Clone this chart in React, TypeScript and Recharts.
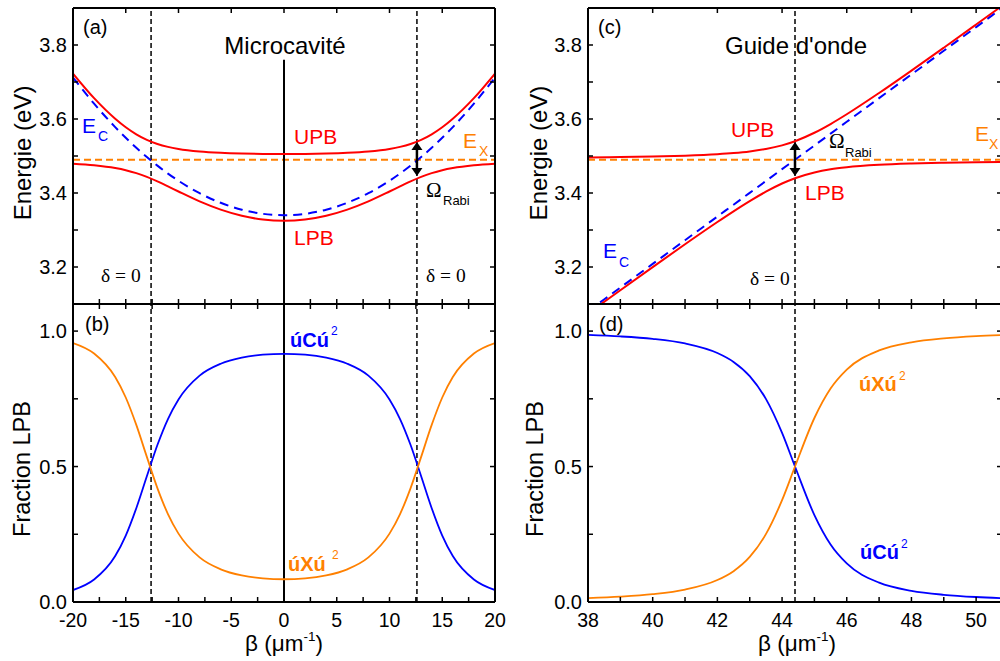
import React from 'react';
import { LineChart, Line, XAxis, YAxis, ReferenceLine } from 'recharts';

// ---------- Data ----------
const EX = 3.49; // exciton energy (eV)
const DELTA0_MC = 12.6; // beta where detuning = 0 (microcavity)
const DELTA0_WG = 44.4; // beta where detuning = 0 (waveguide)
const RABI_MC = [3.538, 3.446];
const RABI_WG = [3.538, 3.446];
const ZERO_LINE_TOP = 3.76;

const betaMC = [-20, -18, -16, -15, -14, -13, -12, -11, -10, -8, -6, -4, -2, 0, 2, 4, 6, 8, 10, 11, 12, 13, 14, 15, 16, 18, 20];
const upbMC = [3.7227, 3.6563, 3.6007, 3.5777, 3.5587, 3.5437, 3.5326, 3.5247, 3.5191, 3.5122, 3.5085, 3.5065, 3.5055, 3.5051, 3.5055, 3.5065, 3.5085, 3.5122, 3.5191, 3.5247, 3.5326, 3.5437, 3.5587, 3.5777, 3.6007, 3.6563, 3.7227];
const lpbMC = [3.4793, 3.475, 3.4674, 3.4615, 3.4536, 3.4435, 3.4313, 3.4179, 3.404, 3.3773, 3.355, 3.3384, 3.3282, 3.3249, 3.3282, 3.3384, 3.355, 3.3773, 3.404, 3.4179, 3.4313, 3.4435, 3.4536, 3.4615, 3.4674, 3.475, 3.4793];
const ecMC = [3.712, 3.6413, 3.5781, 3.5493, 3.5223, 3.4972, 3.4739, 3.4525, 3.433, 3.3995, 3.3735, 3.3549, 3.3437, 3.34, 3.3437, 3.3549, 3.3735, 3.3995, 3.433, 3.4525, 3.4739, 3.4972, 3.5223, 3.5493, 3.5781, 3.6413, 3.712];
const photonMC = [0.0441, 0.0829, 0.1695, 0.2451, 0.3463, 0.4642, 0.5795, 0.6754, 0.7476, 0.8355, 0.8794, 0.9019, 0.9128, 0.916, 0.9128, 0.9019, 0.8794, 0.8355, 0.7476, 0.6754, 0.5795, 0.4642, 0.3463, 0.2451, 0.1695, 0.0829, 0.0441];
const excitonMC = [0.9559, 0.9171, 0.8305, 0.7549, 0.6537, 0.5358, 0.4205, 0.3246, 0.2524, 0.1645, 0.1206, 0.0981, 0.0872, 0.084, 0.0872, 0.0981, 0.1206, 0.1645, 0.2524, 0.3246, 0.4205, 0.5358, 0.6537, 0.7549, 0.8305, 0.9171, 0.9559];

const betaWG = [38, 39, 40, 41, 42, 42.5, 43, 43.5, 44, 44.4, 45, 45.5, 46, 47, 48, 49, 50, 50.8];
const upbWG = [3.496, 3.4971, 3.4986, 3.5009, 3.5048, 3.5079, 3.5123, 3.5189, 3.5288, 3.54, 3.5628, 3.5864, 3.6128, 3.6703, 3.7308, 3.7927, 3.8553, 3.9056];
const lpbWG = [3.0744, 3.1373, 3.1998, 3.2615, 3.3216, 3.3505, 3.3781, 3.4035, 3.4256, 3.44, 3.4556, 3.4641, 3.4696, 3.4761, 3.4796, 3.4817, 3.4832, 3.484];
const ecWG = [3.0804, 3.1444, 3.2084, 3.2724, 3.3364, 3.3684, 3.4004, 3.4324, 3.4644, 3.49, 3.5284, 3.5604, 3.5924, 3.6564, 3.7204, 3.7844, 3.8484, 3.8996];
const photonWG = [0.9857, 0.9803, 0.9712, 0.9543, 0.919, 0.8862, 0.8337, 0.7496, 0.624, 0.5, 0.3208, 0.2122, 0.1423, 0.0714, 0.0413, 0.0266, 0.0184, 0.0143];
const excitonWG = [0.0143, 0.0197, 0.0288, 0.0457, 0.081, 0.1138, 0.1663, 0.2504, 0.376, 0.5, 0.6792, 0.7878, 0.8577, 0.9286, 0.9587, 0.9734, 0.9816, 0.9857];

// ---------- Ticks ----------
const xTicksMC = [-20, -17.5, -15, -12.5, -10, -7.5, -5, -2.5, 0, 2.5, 5, 7.5, 10, 12.5, 15, 17.5, 20];
const xTicksMCTop = [-20, -15, -10, -5, 0, 5, 10, 15, 20];
const xMajorMC = [-20, -15, -10, -5, 0, 5, 10, 15, 20];
const xTicksWG = [38, 39, 40, 41, 42, 43, 44, 45, 46, 47, 48, 49, 50];
const xTicksWGTop = [38, 40, 42, 44, 46, 48, 50];
const xMajorWG = [38, 40, 42, 44, 46, 48, 50];
const yTicksE = [3.2, 3.3, 3.4, 3.5, 3.6, 3.7, 3.8];
const yMajorE = [3.2, 3.4, 3.6, 3.8];
const yTicksF = [0, 0.25, 0.5, 0.75, 1.0];
const yMajorF = [0, 0.5, 1.0];

const domMC = [-20, 20];
const domWG = [38, 50.8];
const domE = [3.1, 3.9];
const domF = [0, 1.1];

const rowsMC = betaMC.map((b, i) => ({ b, upb: upbMC[i], lpb: lpbMC[i], ec: ecMC[i], c: photonMC[i], x: excitonMC[i] }));
const rowsWG = betaWG.map((b, i) => ({ b, upb: upbWG[i], lpb: lpbWG[i], ec: ecWG[i], c: photonWG[i], x: excitonWG[i] }));

const RED = '#FF0000';
const BLUE = '#0000FF';
const ORANGE = '#FF8000';
const SANS = '"Liberation Sans", Arial, sans-serif';
const SERIF = '"Liberation Serif", "Times New Roman", serif';

type Side = 'bottom' | 'top' | 'left' | 'right';
const makeTick = (side: Side, majors: number[], label: boolean, digits = 0) => (props: any) => {
  const { x, y, payload } = props;
  const v = payload.value as number;
  const L = 5;
  const isMajor = majors.some((m) => Math.abs(m - v) < 1e-9);
  let ln: any = null;
  let tx: any = null;
  if (side === 'bottom') {
    ln = <line x1={x} y1={y} x2={x} y2={y - L} stroke="#000" strokeWidth={1.5} />;
    if (label && isMajor) tx = <text x={x} y={y + 25} textAnchor="middle" fontSize={19.5} fontFamily={SANS} fill="#000">{v.toFixed(digits)}</text>;
  } else if (side === 'top') {
    ln = <line x1={x} y1={y} x2={x} y2={y + L} stroke="#000" strokeWidth={1.5} />;
  } else if (side === 'left') {
    ln = <line x1={x} y1={y} x2={x + L} y2={y} stroke="#000" strokeWidth={1.5} />;
    if (label && isMajor) tx = <text x={x - 6} y={y} dy="0.36em" textAnchor="end" fontSize={20} fontFamily={SANS} fill="#000">{v.toFixed(digits)}</text>;
  } else {
    ln = <line x1={x} y1={y} x2={x - L} y2={y} stroke="#000" strokeWidth={1.5} />;
  }
  return <g>{ln}{tx}</g>;
};

const ArrowShape = (p: any) => {
  const { x1, y1, y2 } = p;
  const top = Math.min(y1, y2);
  const bot = Math.max(y1, y2);
  const h = 8;
  const w = 5.5;
  return (
    <g>
      <line x1={x1} y1={top + h - 1} x2={x1} y2={bot - h + 1} stroke="#000" strokeWidth={2.5} />
      <polygon points={`${x1},${top} ${x1 - w},${top + h} ${x1 + w},${top + h}`} fill="#000" />
      <polygon points={`${x1},${bot} ${x1 - w},${bot - h} ${x1 + w},${bot - h}`} fill="#000" />
    </g>
  );
};

const axisLine = { stroke: '#000', strokeWidth: 2 };

const commonAxes = (xdom: number[], ydom: number[], xt: number[], xtTop: number[], xMaj: number[], yt: number[], yMaj: number[], xLabels: boolean, ydigits: number) => [
  <XAxis key="xb" xAxisId={0} type="number" dataKey="b" domain={xdom} allowDataOverflow ticks={xt} interval={0} height={1} tickSize={0} tickMargin={0} axisLine={axisLine} tickLine={false} tick={makeTick('bottom', xMaj, xLabels)} />,
  <XAxis key="xt" xAxisId="t" orientation="top" type="number" dataKey="b" domain={xdom} allowDataOverflow ticks={xtTop} interval={0} height={1} tickSize={0} tickMargin={0} axisLine={axisLine} tickLine={false} tick={makeTick('top', xMaj, false)} />,
  <YAxis key="yl" yAxisId={0} type="number" domain={ydom} allowDataOverflow ticks={yt} interval={0} width={1} tickSize={0} tickMargin={0} axisLine={axisLine} tickLine={false} tick={makeTick('left', yMaj, true, ydigits)} />,
  <YAxis key="yr" yAxisId="r" orientation="right" type="number" domain={ydom} allowDataOverflow ticks={yt} interval={0} width={1} tickSize={0} tickMargin={0} axisLine={axisLine} tickLine={false} tick={makeTick('right', yMaj, false)} />,
];

export default function App() {
  const lineProps = { dot: false, isAnimationActive: false, type: 'monotone' as const, strokeWidth: 2 };
  return (
    <div style={{ position: 'absolute', left: 0, top: 0, width: 1000, height: 661, overflow: 'hidden', background: '#fff', fontFamily: SANS }}>
      {/* (a) Microcavity energies */}
      <div style={{ position: 'absolute', left: 0, top: 0 }}>
        <LineChart width={500} height={310} data={rowsMC} margin={{ top: 7, left: 72, right: 4, bottom: 5 }}>
          {commonAxes(domMC, domE, xTicksMC, xTicksMCTop, xMajorMC, yTicksE, yMajorE, false, 1)}
          <ReferenceLine y={EX} stroke={ORANGE} strokeWidth={2} strokeDasharray="7 4" />
          <ReferenceLine x={-DELTA0_MC} stroke="#000" strokeWidth={1.5} strokeDasharray="5 3" />
          <ReferenceLine x={DELTA0_MC} stroke="#000" strokeWidth={1.5} strokeDasharray="5 3" />
          <ReferenceLine segment={[{ x: 0, y: domE[0] }, { x: 0, y: ZERO_LINE_TOP }]} stroke="#000" strokeWidth={2} />
          <Line {...lineProps} dataKey="ec" stroke={BLUE} strokeDasharray="9 6" />
          <Line {...lineProps} dataKey="upb" stroke={RED} />
          <Line {...lineProps} dataKey="lpb" stroke={RED} />
          <ReferenceLine segment={[{ x: DELTA0_MC, y: RABI_MC[0] }, { x: DELTA0_MC, y: RABI_MC[1] }]} shape={ArrowShape} />
        </LineChart>
      </div>
      {/* (b) Microcavity fractions */}
      <div style={{ position: 'absolute', left: 0, top: 300 }}>
        <LineChart width={525} height={361} data={rowsMC} margin={{ top: 3, left: 72, right: 29, bottom: 58 }}>
          {commonAxes(domMC, domF, xTicksMC, xTicksMC, xMajorMC, yTicksF, yMajorF, true, 1)}
          <ReferenceLine x={-DELTA0_MC} stroke="#000" strokeWidth={1.5} strokeDasharray="5 3" />
          <ReferenceLine x={DELTA0_MC} stroke="#000" strokeWidth={1.5} strokeDasharray="5 3" />
          <ReferenceLine x={0} stroke="#000" strokeWidth={2} />
          <Line {...lineProps} dataKey="c" stroke={BLUE} strokeWidth={1.8} />
          <Line {...lineProps} dataKey="x" stroke={ORANGE} strokeWidth={1.8} />
        </LineChart>
      </div>
      {/* (c) Waveguide energies */}
      <div style={{ position: 'absolute', left: 500, top: 0 }}>
        <LineChart width={510} height={310} data={rowsWG} margin={{ top: 7, left: 87, right: 7, bottom: 5 }}>
          {commonAxes(domWG, domE, xTicksWG, xTicksWGTop, xMajorWG, yTicksE, yMajorE, false, 1)}
          <ReferenceLine y={EX} stroke={ORANGE} strokeWidth={2} strokeDasharray="7 4" />
          <ReferenceLine x={DELTA0_WG} stroke="#000" strokeWidth={1.5} strokeDasharray="5 3" />
          <Line {...lineProps} dataKey="ec" stroke={BLUE} strokeDasharray="9 6" />
          <Line {...lineProps} dataKey="upb" stroke={RED} />
          <Line {...lineProps} dataKey="lpb" stroke={RED} />
          <ReferenceLine segment={[{ x: DELTA0_WG, y: RABI_WG[0] }, { x: DELTA0_WG, y: RABI_WG[1] }]} shape={ArrowShape} />
        </LineChart>
      </div>
      {/* (d) Waveguide fractions */}
      <div style={{ position: 'absolute', left: 500, top: 300 }}>
        <LineChart width={510} height={361} data={rowsWG} margin={{ top: 3, left: 87, right: 7, bottom: 58 }}>
          {commonAxes(domWG, domF, xTicksWG, xTicksWG, xMajorWG, yTicksF, yMajorF, true, 1)}
          <ReferenceLine x={DELTA0_WG} stroke="#000" strokeWidth={1.5} strokeDasharray="5 3" />
          <Line {...lineProps} dataKey="c" stroke={BLUE} strokeWidth={1.8} />
          <Line {...lineProps} dataKey="x" stroke={ORANGE} strokeWidth={1.8} />
        </LineChart>
      </div>
      {/* Annotations */}
      <svg width={1000} height={661} style={{ position: 'absolute', left: 0, top: 0, pointerEvents: 'none' }} fontFamily={SANS}>
        <text x={83} y={34} fontSize={20}>(a)</text>
        <text x={85} y={331} fontSize={20}>(b)</text>
        <text x={598} y={34} fontSize={20}>(c)</text>
        <text x={599} y={331} fontSize={20}>(d)</text>

        <text x={285} y={54} fontSize={24} textAnchor="middle">Microcavité</text>
        <text x={796} y={54} fontSize={24} textAnchor="middle">Guide d'onde</text>

        <text x={294} y={144} fontSize={21} fill={RED}>UPB</text>
        <text x={294} y={245} fontSize={21} fill={RED}>LPB</text>
        <text x={731} y={137} fontSize={21} fill={RED}>UPB</text>
        <text x={805} y={200} fontSize={21} fill={RED}>LPB</text>

        <text x={82} y={133} fontSize={21} fill={BLUE}>E</text>
        <text x={98} y={141} fontSize={14} fill={BLUE}>C</text>
        <text x={603} y={258} fontSize={21} fill={BLUE}>E</text>
        <text x={619} y={267} fontSize={14} fill={BLUE}>C</text>

        <text x={463} y={148} fontSize={21} fill={ORANGE}>E</text>
        <text x={479} y={156} fontSize={14} fill={ORANGE}>X</text>
        <text x={975} y={141} fontSize={21} fill={ORANGE}>E</text>
        <text x={989} y={149} fontSize={14} fill={ORANGE}>X</text>

        <text x={426} y={197} fontSize={21} fontFamily={SERIF}>Ω</text>
        <text x={443} y={205} fontSize={13}>Rabi</text>
        <text x={829} y={148} fontSize={21} fontFamily={SERIF}>Ω</text>
        <text x={845} y={157} fontSize={13}>Rabi</text>

        <text x={101} y={282} fontSize={19.5} fontFamily={SERIF}>δ = 0</text>
        <text x={426} y={282} fontSize={19.5} fontFamily={SERIF}>δ = 0</text>
        <text x={750} y={285} fontSize={19.5} fontFamily={SERIF}>δ = 0</text>

        <text x={290} y={347} fontSize={20} fontWeight="bold" fill={BLUE}>úCú</text>
        <text x={331} y={335} fontSize={12} fill={BLUE}>2</text>
        <text x={288} y={571} fontSize={20} fontWeight="bold" fill={ORANGE}>úXú</text>
        <text x={332} y={559} fontSize={12} fill={ORANGE}>2</text>
        <text x={859} y={391} fontSize={20} fontWeight="bold" fill={ORANGE}>úXú</text>
        <text x={899} y={380} fontSize={12} fill={ORANGE}>2</text>
        <text x={860} y={559} fontSize={20} fontWeight="bold" fill={BLUE}>úCú</text>
        <text x={901} y={548} fontSize={12} fill={BLUE}>2</text>

        <text x={31} y={153} fontSize={24} textAnchor="middle" transform="rotate(-90 31 153)">Energie (eV)</text>
        <text x={547} y={153} fontSize={24} textAnchor="middle" transform="rotate(-90 547 153)">Energie (eV)</text>
        <text x={30} y={469} fontSize={23.5} textAnchor="middle" transform="rotate(-90 30 469)">Fraction LPB</text>
        <text x={543} y={469} fontSize={23.5} textAnchor="middle" transform="rotate(-90 543 469)">Fraction LPB</text>

        <text x={284} y={651} fontSize={22.5} textAnchor="middle">β (μm<tspan fontSize={13.5} dy={-10}>-1</tspan><tspan dy={10}>)</tspan></text>
        <text x={797} y={651} fontSize={22.5} textAnchor="middle">β (μm<tspan fontSize={13.5} dy={-10}>-1</tspan><tspan dy={10}>)</tspan></text>
      </svg>
    </div>
  );
}
